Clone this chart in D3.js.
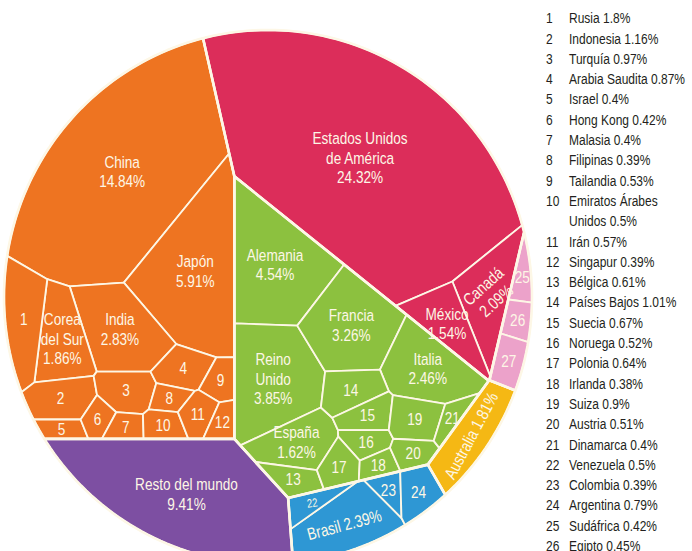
<!DOCTYPE html>
<html>
<head>
<meta charset="utf-8">
<title>Economía mundial</title>
<style>
  body { margin: 0; background: #fff; }
  svg text { font-family: "Liberation Sans", Arial, sans-serif; }
</style>
</head>
<body>
<script src="https://cdn.jsdelivr.net/npm/d3@7"></script>
<script>
// datos: participación en el PIB mundial (%)
const regions = ["Asia", "Norteamérica", "Europa", "Sudamérica", "Oceanía", "África", "Resto"]
const countries = [
  "China", "Japón", "India", "Corea del Sur", "Rusia", "Indonesia", "Turquía", "Arabia Saudita",
  "Israel", "Hong Kong", "Malasia", "Filipinas", "Tailandia", "Emiratos Árabes Unidos", "Irán", "Singapur",
  "Estados Unidos de América", "Canadá", "México",
  "Alemania", "Reino Unido", "Francia", "Italia", "España", "Bélgica", "Países Bajos", "Suecia",
  "Noruega", "Polonia", "Irlanda", "Suiza", "Austria", "Dinamarca",
  "Brasil", "Venezuela", "Colombia", "Argentina",
  "Australia",
  "Sudáfrica", "Egipto", "Nigeria",
  "Resto del mundo"
]
const shares = [
  14.84, 5.91, 2.83, 1.86, 1.8, 1.16, 0.97, 0.87,
  0.4, 0.42, 0.4, 0.39, 0.53, 0.5, 0.57, 0.39,
  24.32, 2.09, 1.54,
  4.54, 3.85, 3.26, 2.46, 1.62, 0.61, 1.01, 0.67,
  0.52, 0.64, 0.38, 0.9, 0.51, 0.4,
  2.39, 0.5, 0.39, 0.79,
  1.81,
  0.42, 0.45, 0.65,
  9.41
]
const regionOf = [
  0, 0, 0, 0, 0, 0, 0, 0, 0, 0, 0, 0, 0, 0, 0, 0,
  1, 1, 1,
  2, 2, 2, 2, 2, 2, 2, 2, 2, 2, 2, 2, 2, 2,
  3, 3, 3, 3,
  4,
  5, 5, 5,
  6
]
// número en la leyenda (0 = nombre dentro de la celda)
const legendNo = [
  0, 0, 0, 0, 1, 2, 3, 4, 5, 6, 7, 8, 9, 10, 11, 12,
  0, 0, 0,
  0, 0, 0, 0, 0, 13, 14, 15, 16, 17, 18, 19, 20, 21,
  0, 22, 23, 24,
  0,
  25, 26, 27,
  0
]

// diseño
const width = 692, height = 551
const cx = 268, cy = 297, rx = 264, ry = 267
const narrow = 0.8
const regionColor = ["#ee7421", "#dc2d5a", "#8cc13f", "#2e97d4", "#f5b814", "#eca2ca", "#7d4fa2"]
const lineColor = "#fdf7e6"
// semillas de la teselación (px)
const regionSeed = [[120, 250], [389, 189], [340, 250], [383, 430], [497, 364], [551, 227], [120, 450]]
const seed = {
  "China": [115, 165], "Japón": [207, 240], "India": [125, 310], "Corea del Sur": [62, 330],
  "Rusia": [22, 325], "Indonesia": [68, 385], "Turquía": [125, 375], "Arabia Saudita": [170, 352],
  "Israel": [68, 417], "Hong Kong": [98, 405], "Malasia": [122, 418], "Filipinas": [163, 386],
  "Tailandia": [208, 373], "Emiratos Árabes Unidos": [160, 417], "Irán": [188, 406], "Singapur": [215, 418],
  "Estados Unidos de América": [350, 130], "Canadá": [475, 285], "México": [425, 305],
  "Alemania": [272, 262], "Reino Unido": [268, 372], "Francia": [350, 322], "Italia": [418, 355],
  "España": [300, 440], "Bélgica": [295, 478], "Países Bajos": [352, 382], "Suecia": [365, 410],
  "Noruega": [365, 437], "Polonia": [336, 463], "Irlanda": [377, 465], "Suiza": [408, 415],
  "Austria": [406, 452], "Dinamarca": [440, 425],
  "Brasil": [340, 525], "Venezuela": [318, 494], "Colombia": [377, 488], "Argentina": [413, 487],
  "Australia": [470, 425], "Sudáfrica": [522, 290], "Egipto": [517, 327], "Nigeria": [505, 365],
  "Resto del mundo": [160, 480]
}
const labelLines = {
  "Estados Unidos de América": ["Estados Unidos", "de América"],
  "Corea del Sur": ["Corea", "del Sur"],
  "Reino Unido": ["Reino", "Unido"]
}
const oneLine = { "Brasil": -15, "Australia": -62 }
const labelRotate = { "Canadá": -42, "Venezuela": -8 }
const labelSize = { "Venezuela": 12 }

// diagrama de potencia recortado a un polígono
function clipHalf(poly, a, b, c) {
  const out = []
  for (let i = 0; i < poly.length; i++) {
    const p = poly[i], q = poly[(i + 1) % poly.length]
    const fp = a * p[0] + b * p[1] - c, fq = a * q[0] + b * q[1] - c
    if (fp <= 0) out.push(p)
    if ((fp <= 0) !== (fq <= 0)) {
      const t = fp / (fp - fq)
      out.push([p[0] + t * (q[0] - p[0]), p[1] + t * (q[1] - p[1])])
    }
  }
  return out
}
function powerCells(sites, w, bound) {
  return sites.map((p, i) => {
    let poly = bound
    for (let j = 0; j < sites.length && poly.length > 2; j++) {
      if (j === i) continue
      const q = sites[j]
      poly = clipHalf(poly, 2 * (q[0] - p[0]), 2 * (q[1] - p[1]),
        q[0] * q[0] + q[1] * q[1] - p[0] * p[0] - p[1] * p[1] - w[j] + w[i])
    }
    return poly
  })
}
function voronoiTreemap(sites, values, bound) {
  const total = Math.abs(d3.polygonArea(bound)), sum = d3.sum(values)
  const target = values.map(v => v / sum * total)
  const w = sites.map(() => 0)
  let cells = []
  for (let it = 0; it < 2500; it++) {
    cells = powerCells(sites, w, bound)
    let err = 0
    cells.forEach((c, i) => {
      const a = c.length > 2 ? Math.abs(d3.polygonArea(c)) : 0
      err = Math.max(err, Math.abs(target[i] - a) / target[i])
      w[i] += 0.15 * (target[i] - a)
    })
    if (err < 0.002) break
  }
  return cells
}

const outline = d3.range(240).map(i => {
  const t = i / 240 * 2 * Math.PI
  return [cx + rx * Math.cos(t), cy + ry * Math.sin(t)]
})

const regionTotals = regions.map((r, k) => d3.sum(shares.filter((v, i) => regionOf[i] === k)))
const regionCells = voronoiTreemap(regionSeed, regionTotals, outline)

const leaves = []
regions.forEach((r, k) => {
  const idx = countries.map((c, i) => i).filter(i => regionOf[i] === k)
  const cells = idx.length > 1
    ? voronoiTreemap(idx.map(i => seed[countries[i]]), idx.map(i => shares[i]), regionCells[k])
    : [regionCells[k]]
  idx.forEach((i, n) => leaves.push({ i, name: countries[i], value: shares[i], region: k, no: legendNo[i], poly: cells[n] }))
})

const svg = d3.select("body").append("svg")
  .attr("width", width).attr("height", height)

const path = p => "M" + p.map(d => d.join(",")).join("L") + "Z"

svg.append("g").selectAll("path")
  .data(leaves.filter(d => d.poly.length > 2)).join("path")
  .attr("d", d => path(d.poly))
  .attr("fill", d => regionColor[d.region])
  .attr("stroke", lineColor)
  .attr("stroke-width", 1.8)
  .attr("stroke-linejoin", "round")

svg.append("g").selectAll("path")
  .data(regionCells).join("path")
  .attr("d", path)
  .attr("fill", "none")
  .attr("stroke", lineColor)
  .attr("stroke-width", 2.6)
  .attr("stroke-linejoin", "round")

// etiquetas
const fmt = v => String(v) + "%"
const labels = svg.append("g").attr("fill", lineColor).attr("text-anchor", "middle")
leaves.filter(d => d.poly.length > 2).forEach(d => {
  const [x, y] = d3.polygonCentroid(d.poly)
  let lines
  if (d.no) lines = [String(d.no)]
  else if (d.name in oneLine) lines = [d.name + " " + fmt(d.value)]
  else lines = (labelLines[d.name] || [d.name]).concat([fmt(d.value)])
  const rot = d.name in oneLine ? oneLine[d.name] : (labelRotate[d.name] || 0)
  const t = labels.append("text")
    .attr("transform", `translate(${x},${y}) rotate(${rot}) scale(${narrow},1)`)
    .attr("font-size", labelSize[d.name] || 17)
  lines.forEach((l, n) => t.append("tspan")
    .attr("x", 0)
    .attr("y", (n - (lines.length - 1) / 2) * 19.5)
    .attr("dy", "0.35em")
    .text(l))
})

// leyenda
const legend = svg.append("g").attr("font-size", 15).attr("fill", "#231f20")
const legendText = (x, y, s) => legend.append("text")
  .attr("transform", `translate(${x},${y}) scale(${narrow},1)`)
  .attr("dy", "0.35em").text(s)
let row = 0
leaves.filter(d => d.no).sort((a, b) => a.no - b.no).forEach(d => {
  const y = 18 + row * 20.3
  legendText(546, y, d.no)
  const full = d.name + " " + fmt(d.value)
  const t = legendText(569, y, full)
  if (t.node().getComputedTextLength() * narrow > 124) {
    const words = full.split(" "), first = []
    while (words.length) {
      first.push(words.shift())
      t.text(first.join(" "))
      if (t.node().getComputedTextLength() * narrow > 110) { words.unshift(first.pop()); break }
    }
    t.text(first.join(" "))
    row++
    legendText(569, 18 + row * 20.3, words.join(" "))
  }
  row++
})
</script>
</body>
</html>
